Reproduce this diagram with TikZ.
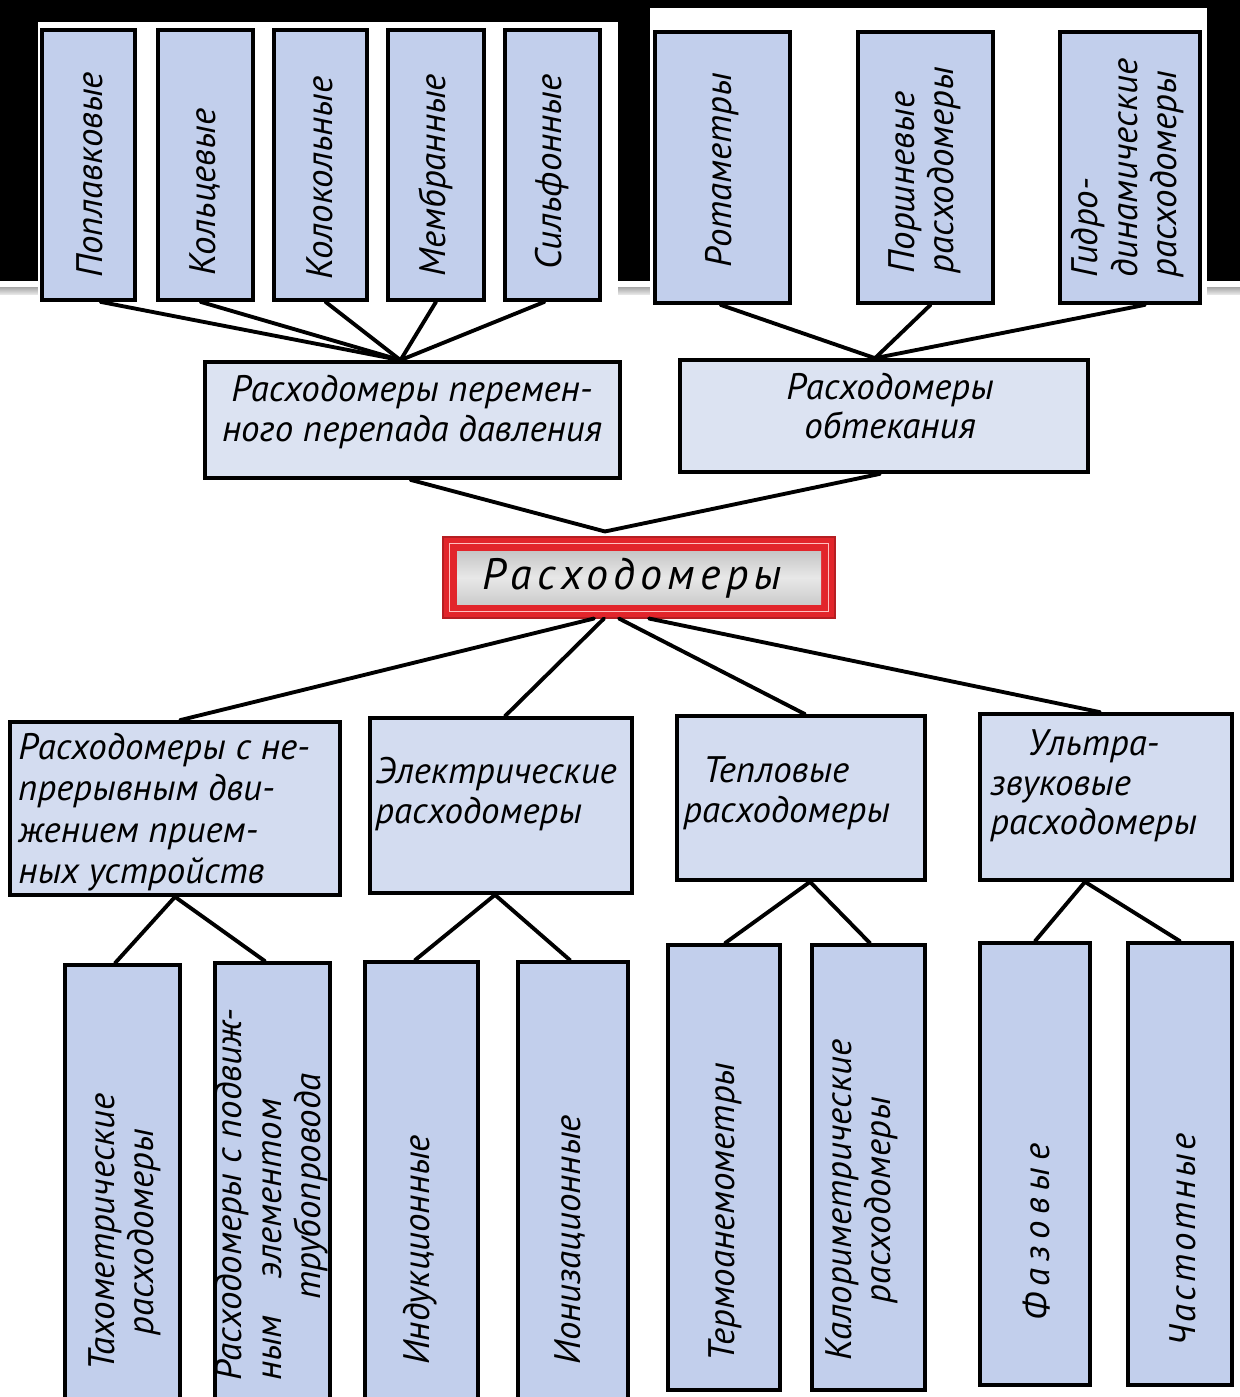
\documentclass[tikz,border=0pt]{standalone}
\usepackage{fontspec}
\setmainfont{PT Sans}
\usetikzlibrary{calc}
\definecolor{boxblue}{HTML}{C2CFEC}
\definecolor{boxlight}{HTML}{DCE3F2}
\definecolor{boxrow}{HTML}{D3DCF0}
\definecolor{redb}{HTML}{E2252B}
\tikzset{
  box/.style={draw=black, line width=2.1pt, fill=boxblue, inner sep=0pt},
  lbox/.style={box, fill=boxlight},
  rbox/.style={box, fill=boxrow},
  conn/.style={line width=2.2pt, line cap=round},
  lbl/.style={font=\itshape\fontsize{21}{22.5}\selectfont, align=center, inner sep=0pt},
  vlbl/.style={lbl, rotate=90},
}
\newcommand\mybox[6]{\node[#6, minimum width={(#4-#2)*0.02cm}, minimum height={(#5-#3)*0.02cm}] (#1) at ({(#2+#4)/2},{(#3+#5)/2}) {};}
\begin{document}
\begin{tikzpicture}[x=0.02cm, y=-0.02cm]
\clip (0,0) rectangle (1240,1397);
\fill[white] (0,0) rectangle (1240,1397);
\fill[black] (0,0) rectangle (1240,281);
\shade[top color=gray!70, bottom color=gray!20] (0,287) rectangle (1240,294);
\fill[white] (38,22) rectangle (618,306);
\fill[white] (650,8) rectangle (1207,306);

% top boxes
\mybox{pop}{42}{30}{135}{300}{box}
\mybox{kol}{158}{30}{253}{300}{box}
\mybox{klk}{274}{30}{367}{300}{box}
\mybox{mem}{388}{30}{484}{300}{box}
\mybox{sil}{505}{30}{600}{300}{box}
\mybox{rot}{655}{32}{790}{303}{box}
\mybox{por}{858}{32}{993}{303}{box}
\mybox{gid}{1060}{32}{1200}{303}{box}
% middle boxes
\mybox{mid1}{205}{362}{620}{478}{lbox}
\mybox{mid2}{680}{360}{1088}{472}{lbox}
% central box
\node[fill=redb, draw=redb!80!black, line width=0.6pt, inner sep=0pt, minimum width={392*0.02cm}, minimum height={81*0.02cm}] (main) at (639,577.5) {};
\draw[white!75!red, line width=0.9pt] ($(main.north west)+(7,7)$) rectangle ($(main.south east)+(-7,-7)$);
\node[inner sep=0pt, minimum width={364*0.02cm}, minimum height={53*0.02cm}, top color=gray!45, bottom color=gray!40, middle color=gray!18] (mainin) at (main) {};
% row boxes
\mybox{ra}{10}{722}{340}{895}{rbox}
\mybox{rb}{370}{718}{632}{893}{rbox}
\mybox{rc}{677}{716}{925}{880}{rbox}
\mybox{rd}{980}{714}{1232}{880}{rbox}
% bottom boxes
\mybox{ba1}{65}{965}{180}{1420}{box}
\mybox{ba2}{215}{963}{330}{1420}{box}
\mybox{bb1}{365}{962}{478}{1420}{box}
\mybox{bb2}{518}{962}{628}{1420}{box}
\mybox{bc1}{668}{945}{780}{1390}{box}
\mybox{bc2}{812}{945}{925}{1390}{box}
\mybox{bd1}{980}{943}{1090}{1385}{box}
\mybox{bd2}{1128}{943}{1232}{1385}{box}

% junctions
\coordinate (jTL) at ($(mid1.north)+(-12,0)$);
\coordinate (jTR) at ($(mid2.north)+(-9,0)$);
\coordinate (jC) at ($(main.north)+(-34,-5)$);

% connectors top
\draw[conn] ($(pop.south)+(12,0)$) -- (jTL);
\draw[conn] ($(kol.south)+(-5,0)$) -- (jTL);
\draw[conn] ($(klk.south)+(5,0)$) -- (jTL);
\draw[conn] (mem.south) -- (jTL);
\draw[conn] ($(sil.south)+(-8,0)$) -- (jTL);
\draw[conn] ($(rot.south)+(-2,0)$) -- (jTR);
\draw[conn] ($(por.south)+(5,0)$) -- (jTR);
\draw[conn] ($(gid.south)+(15,0)$) -- (jTR);
\draw[conn] ($(mid1.south)+(-2,0)$) -- (jC);
\draw[conn] ($(mid2.south)+(-4,0)$) -- (jC);
% connectors center to row
\draw[conn] ($(main.south)+(-45,0)$) -- ($(ra.north)+(5,0)$);
\draw[conn] ($(main.south)+(-35,0)$) -- ($(rb.north)+(4,0)$);
\draw[conn] ($(main.south)+(-20,0)$) -- ($(rc.north)+(4,0)$);
\draw[conn] ($(main.south)+(10,0)$) -- ($(rd.north)+(-6,0)$);
% connectors row to bottom
\draw[conn] (ra.south) -- ($(ba1.north)+(-7.5,0)$);
\draw[conn] (ra.south) -- ($(ba2.north)+(-7.5,0)$);
\draw[conn] ($(rb.south)+(-6,0)$) -- ($(bb1.north)+(-6.5,0)$);
\draw[conn] ($(rb.south)+(-6,0)$) -- ($(bb2.north)+(-3,0)$);
\draw[conn] ($(rc.south)+(9,0)$) -- ($(bc1.north)+(1,0)$);
\draw[conn] ($(rc.south)+(9,0)$) -- ($(bc2.north)+(1.5,0)$);
\draw[conn] ($(rd.south)+(-21,0)$) -- (bd1.north);
\draw[conn] ($(rd.south)+(-21,0)$) -- (bd2.north);

% labels top
\node[vlbl] (pop-t) at (90,175) {Поплавковые};
\node[vlbl] (kol-t) at (205,192) {Кольцевые};
\node[vlbl] (klk-t) at (320,178) {Колокольные};
\node[vlbl] (mem-t) at (436,175) {Мембранные};
\node[vlbl] (sil-t) at (552,172) {Сильфонные};
\node[vlbl] (rot-t) at (722,170) {Ротаметры};
\node[vlbl, align=left] (por-t) at (925,170) {Поршневые\\расходомеры};
\node[vlbl, align=left] (gid-t) at (1128,168) {Гидро-\\динамические\\расходомеры};
% middle labels
\node[lbl] (mid1-t) at (412,412) {Расходомеры перемен-\\ного перепада давления};
\node[lbl] (mid2-t) at (890,406) {Расходомеры\\обтекания};
\node[font=\itshape\fontsize{25}{28}\selectfont\addfontfeature{LetterSpace=12}, inner sep=0pt] (main-t) at (632,578) {Расходомеры};
% row labels
\node[lbl, align=left, anchor=west, font=\itshape\fontsize{21}{23.5}\selectfont] (ra-t) at (18,812) {Расходомеры с не-\\прерывным дви-\\жением прием-\\ных устройств};
\node[lbl, align=left, anchor=west] (rb-t) at (375,794) {Электрические\\расходомеры};
\node[lbl, align=left, anchor=west] (rc-t) at (683,793) {\hspace*{0.4cm}Тепловые\\расходомеры};
\node[lbl, align=left, anchor=west] (rd-t) at (990,786) {\hspace*{0.75cm}Ультра-\\звуковые\\расходомеры};
% bottom labels
\node[vlbl] (ba1-t) at (125,1232) {Тахометрические\\расходомеры};
\node[vlbl, align=left] (ba2-t) at (272,1195) {Расходомеры с подвиж-\\ным\hspace{1em}элементом\\\hspace*{2.2em}трубопровода};
\node[vlbl] (bb1-t) at (420,1250) {Индукционные};
\node[vlbl] (bb2-t) at (570,1240) {Ионизационные};
\node[vlbl] (bc1-t) at (725,1212) {Термоанемометры};
\node[vlbl] (bc2-t) at (862,1200) {Калориметрические\\расходомеры};
\node[vlbl, font=\itshape\fontsize{21}{22.5}\selectfont\addfontfeature{LetterSpace=18}] (bd1-t) at (1037,1232) {Фазовые};
\node[vlbl, font=\itshape\fontsize{21}{22.5}\selectfont\addfontfeature{LetterSpace=8}] (bd2-t) at (1183,1240) {Частотные};
\end{tikzpicture}
\end{document}
